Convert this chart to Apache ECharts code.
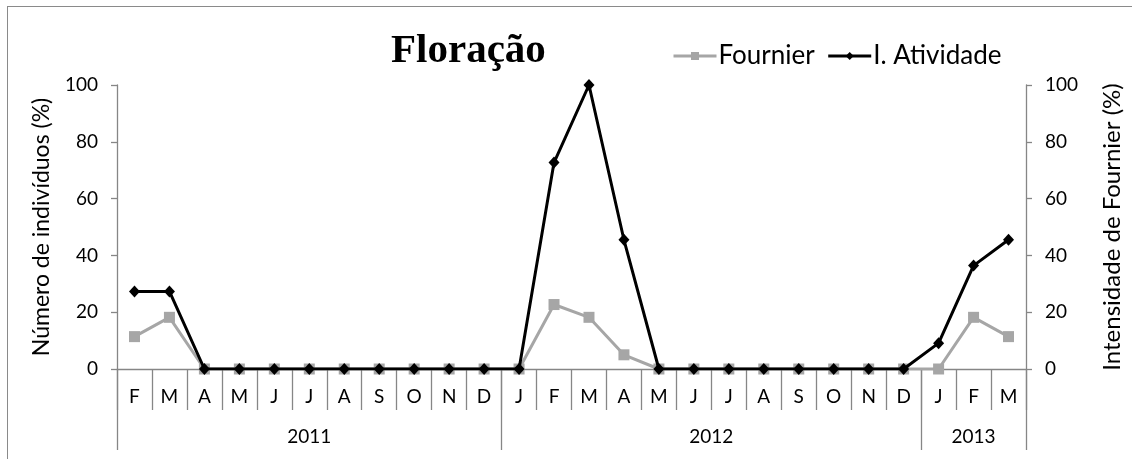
<!DOCTYPE html>
<html>
<head>
<meta charset="utf-8">
<script src="https://cdn.jsdelivr.net/npm/echarts@6/dist/echarts.min.js"></script>
<style>
  html, body { margin: 0; padding: 0; background: #fff; }
  #wrap { position: relative; width: 1132px; height: 459px; overflow: hidden; }
  #frame { position: absolute; left: 7px; top: 6px; width: 1140px; height: 470px;
           border: 1.5px solid #8a8a8a; box-sizing: border-box; }
  #chart { position: absolute; left: 0; top: 0; width: 1132px; height: 459px; }
</style>
</head>
<body>
<div id="wrap">
  <div id="frame"></div>
  <div id="chart"></div>
</div>
<script>
// Months from Feb 2011 to Mar 2013
const months = ['F','M','A','M','J','J','A','S','O','N','D',
                'J','F','M','A','M','J','J','A','S','O','N','D',
                'J','F','M'];
const years = ['2011', '2012', '2013'];
const yearSpans = [11, 12, 3];

const fournier = [11.4, 18.2, 0, 0, 0, 0, 0, 0, 0, 0, 0,
                  0, 22.7, 18.2, 5, 0, 0, 0, 0, 0, 0, 0, 0,
                  0, 18.2, 11.4];
const atividade = [27.3, 27.3, 0, 0, 0, 0, 0, 0, 0, 0, 0,
                   0, 72.7, 100, 45.5, 0, 0, 0, 0, 0, 0, 0, 0,
                   9.1, 36.4, 45.5];

const yTicks = [0, 20, 40, 60, 80, 100];

// year group boundaries and label centres along the month scale
const yearBounds = [0];
const yearMids = [];
yearSpans.forEach((s, i) => {
  const start = yearBounds[i];
  yearMids.push(start + s / 2);
  yearBounds.push(start + s);
});

const FONT = 'Lato, "Noto Sans", sans-serif';
const AXIS = '#868686';

const chart = echarts.init(document.getElementById('chart'), null, { renderer: 'canvas' });

const yAxisBase = {
  type: 'value',
  min: yTicks[0],
  max: yTicks[yTicks.length - 1],
  interval: 20,
  axisLine: { show: true, lineStyle: { color: AXIS, width: 1.3 } },
  axisTick: { show: true, length: 6, lineStyle: { color: AXIS, width: 1.3 } },
  splitLine: { show: false },
  axisLabel: { color: '#000', fontFamily: FONT, fontSize: 19, margin: 19 },
  nameLocation: 'middle',
  nameTextStyle: { color: '#000', fontFamily: FONT, fontSize: 23 }
};

chart.setOption({
  animation: false,
  backgroundColor: 'transparent',
  title: {
    text: 'Floração',
    left: 386,
    top: 26,
    textStyle: { fontFamily: '"Liberation Serif", "Times New Roman", serif',
                 fontWeight: 'bold', fontSize: 41, color: '#000' }
  },
  legend: {
    left: 667,
    top: 38,
    itemWidth: 43,
    itemHeight: 10,
    itemGap: 12,
    lineStyle: { width: 3 },
    textStyle: { fontFamily: FONT, fontSize: 26, color: '#000', padding: [0, 0, 0, -3] },
    data: ['Fournier', 'I. Atividade']
  },
  grid: { left: 117, right: 105, top: 85, bottom: 90, containLabel: false },
  xAxis: [
    {
      type: 'category',
      data: months,
      boundaryGap: true,
      axisLine: { show: true, onZero: false, lineStyle: { color: AXIS, width: 1.3 } },
      axisTick: { show: true, interval: 0, length: 41, lineStyle: { color: AXIS, width: 1.3 } },
      axisLabel: { interval: 0, color: '#000', fontFamily: FONT, fontSize: 19, margin: 18 },
      splitLine: { show: false }
    },
    {
      type: 'value',
      min: 0,
      max: months.length,
      position: 'bottom',
      axisLine: { show: false },
      axisTick: { show: true, customValues: yearBounds, length: 81,
                  lineStyle: { color: AXIS, width: 1.3 } },
      axisLabel: { show: true, customValues: yearMids, margin: 58,
                   color: '#000', fontFamily: FONT, fontSize: 19,
                   formatter: v => years[yearMids.indexOf(v)] || '' },
      splitLine: { show: false }
    }
  ],
  yAxis: [
    Object.assign({}, yAxisBase, { name: 'Número de indivíduos (%)', nameGap: 64, position: 'left' }),
    Object.assign({}, yAxisBase, { name: 'Intensidade de Fournier (%)', nameGap: 74, position: 'right',
                                   nameRotate: 90,
                                   nameTextStyle: { color: '#000', fontFamily: FONT, fontSize: 24 } })
  ],
  series: [
    {
      name: 'Fournier',
      type: 'line',
      xAxisIndex: 0,
      yAxisIndex: 1,
      data: fournier,
      symbol: 'rect',
      symbolSize: 11,
      lineStyle: { color: '#A6A6A6', width: 3 },
      itemStyle: { color: '#A6A6A6' },
      z: 2
    },
    {
      name: 'I. Atividade',
      type: 'line',
      xAxisIndex: 0,
      yAxisIndex: 0,
      data: atividade,
      symbol: 'diamond',
      symbolSize: [11, 12],
      lineStyle: { color: '#000', width: 3 },
      itemStyle: { color: '#000' },
      z: 3
    }
  ]
});
</script>
</body>
</html>
